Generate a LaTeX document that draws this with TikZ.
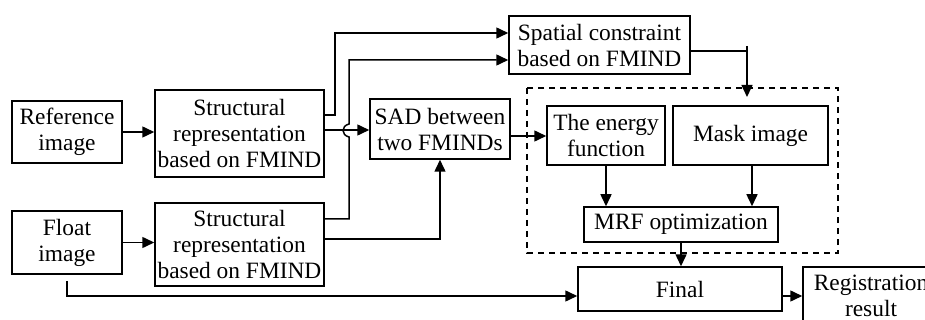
\documentclass[tikz,border=0pt]{standalone}
\usepackage{fontspec}
\setmainfont{Liberation Serif}
\usetikzlibrary{arrows.meta}
\tikzset{
  box/.style={draw, line width=0.75pt, align=center, inner sep=1pt, font=\fontsize{11.7}{13}\selectfont},
  arr/.style={-{Triangle[length=6pt,width=5.5pt]}},
  group/.style={draw, line width=1pt, dash pattern=on 3pt off 2.5pt},
}
\begin{document}
\begin{tikzpicture}[x=0.5pt,y=-0.5pt,line width=0.75pt]
\useasboundingbox (0,0) rectangle (925,320);
% inputs
\node[box,minimum width=55pt,minimum height=31pt] (ref) at (67,132) {Reference\\image};
\node[box,minimum width=55pt,minimum height=31.5pt] (flt) at (67,242.5) {Float\\image};
\node[box,minimum width=84.5pt,minimum height=43.5pt] (st1) at (239.5,133.5) {Structural\\representation\\based on FMIND};
\node[box,minimum width=84.5pt,minimum height=41.5pt] (st2) at (239.5,244.5) {Structural\\representation\\based on FMIND};
\node[box,minimum width=70pt,minimum height=30pt] (sad) at (440,129) {SAD between\\two FMINDs};
\node[box,minimum width=90.5pt,minimum height=29pt] (spc) at (599.5,45) {Spatial constraint\\based on FMIND};
% MRF part
\draw[group] (527,88) rectangle (838,253);
\node[box,minimum width=59pt,minimum height=29.5pt] (nrg) at (606,135.5) {The energy\\function};
\node[box,minimum width=77.5pt,minimum height=29.5pt] (msk) at (750.5,135.5) {Mask image};
\node[box,minimum width=97pt,minimum height=17.5pt] (mrf) at (681,224.5) {MRF optimization};
\node[box,minimum width=102pt,minimum height=22pt] (fin) at (680,289) {Final};
\node[box,minimum width=68pt,minimum height=29pt] (reg) at (871,296) {Registration\\result};
\coordinate (mtop) at (747,97);
% connectors
\draw[arr] (ref) -- (st1.west |- ref);
\draw[arr] (flt) -- (st2.west |- flt);
\draw[arr] (st1.east |- 0,115) -- (335,115) -- (335,33) -- (spc.west |- 0,33);
\draw[arr] (st2.east |- 0,219) -- (349,219) -- (349,137) .. controls (341,135) and (341,126) .. (349,124) -- (349,60) -- (spc.west |- 0,60);
\draw[arr] (st1.east |- 0,130) -- (sad.west |- 0,130);
\draw[arr] (st2.east |- 0,239) -| (sad.south);
\draw[arr] (sad.east |- 0,136) -- (nrg.west |- 0,136);
\draw (spc.east |- 0,51) -- (747,51);
\draw[arr] (747,46) -- (mtop);
\draw[arr] (nrg.south) -- (nrg.south |- mrf.north);
\draw[arr] (msk.south -| 752,0) -- (752,0 |- mrf.north);
\draw[arr] (mrf.south) -- (mrf.south |- fin.north);
\draw[arr] ([yshift=-3pt]flt.south) -- (67,296) -- (fin.west |- 0,296);
\draw[arr] (fin.east |- 0,296) -- (reg.west);
\end{tikzpicture}
\end{document}
